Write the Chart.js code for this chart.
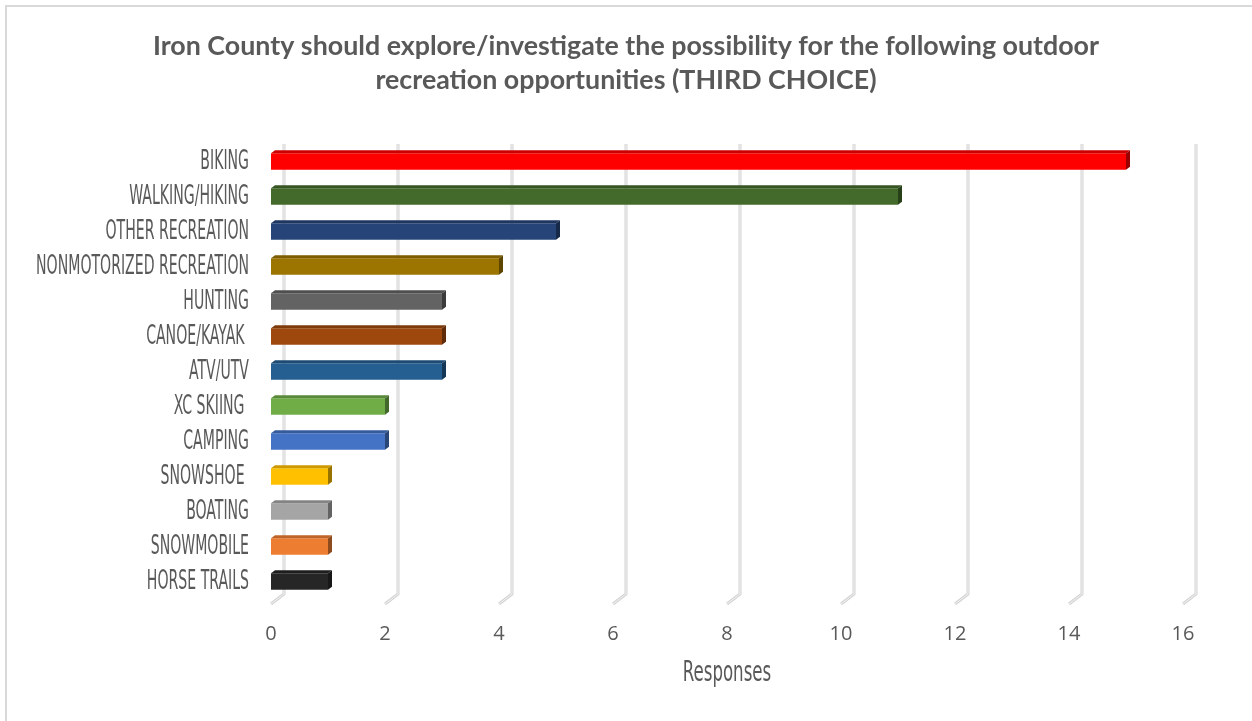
<!DOCTYPE html>
<html>
<head>
<meta charset="utf-8">
<script src="https://cdn.jsdelivr.net/npm/chart.js@4/dist/chart.umd.min.js"></script>
<style>
  html, body { margin: 0; padding: 0; background: #fff; overflow: hidden; }
  #frame { position: absolute; left: 5px; top: 5px; width: 1270px; height: 740px; border: 2px solid #d9d9d9; }
  #chart { position: absolute; left: 0; top: 0; }
</style>
</head>
<body>
<div id="frame"></div>
<canvas id="chart" width="1252" height="721"></canvas>
<script>
// DATA
const categories = ['BIKING', 'WALKING/HIKING', 'OTHER RECREATION', 'NONMOTORIZED RECREATION', 'HUNTING',
    'CANOE/KAYAK ', 'ATV/UTV', 'XC SKIING ', 'CAMPING', 'SNOWSHOE ', 'BOATING', 'SNOWMOBILE', 'HORSE TRAILS'];
const responses = [15, 11, 5, 4, 3, 3, 3, 2, 2, 1, 1, 1, 1];
const barColors = ['#ff0000', '#436a2b', '#264478', '#9c7400', '#636363', '#9e480e', '#255e91',
    '#70ad47', '#4472c4', '#ffc000', '#a5a5a5', '#ed7d31', '#262626'];
const xTicks = [0, 2, 4, 6, 8, 10, 12, 14, 16];

const titleLines = ['Iron County should explore/investigate the possibility for the following outdoor',
    'recreation opportunities (THIRD CHOICE)'];
const axisTitle = 'Responses';
const textGray = '#595959';
// tall, narrow look of the original labels: condensed font squeezed sideways
const narrowFamily = "'DejaVu Sans Condensed', 'DejaVu Sans', sans-serif";

// darken a hex colour
function shade(hex, f) {
    const n = parseInt(hex.slice(1), 16);
    const r = Math.round(((n >> 16) & 255) * f);
    const g = Math.round(((n >> 8) & 255) * f);
    const b = Math.round((n & 255) * f);
    return `rgb(${r},${g},${b})`;
}

function narrowText(ctx, text, x, y, align, size, squeeze) {
    ctx.save();
    ctx.font = `${size}px ${narrowFamily}`;
    ctx.fillStyle = textGray;
    ctx.textAlign = align;
    ctx.textBaseline = 'middle';
    ctx.translate(x, y);
    ctx.scale(squeeze, 1);
    ctx.fillText(text, 0, 0);
    ctx.restore();
}

// --- 3D back wall gridlines ---
const wallGrid = {
    id: 'wallGrid',
    beforeDatasetsDraw(chart) {
        const { ctx, chartArea, scales } = chart;
        const dx = 13, dy = 5;
        xTicks.forEach(v => {
            const px = scales.x.getPixelForValue(v);
            const path = () => {
                ctx.beginPath();
                ctx.moveTo(px + dx, chartArea.top);
                ctx.lineTo(px + dx, chartArea.bottom - dy);
                ctx.lineTo(px, chartArea.bottom + dy);
            };
            ctx.save();
            ctx.lineJoin = 'round';
            path(); ctx.strokeStyle = '#d4d4d4'; ctx.lineWidth = 3; ctx.stroke();
            path(); ctx.strokeStyle = '#f2f2f2'; ctx.lineWidth = 1; ctx.stroke();
            ctx.restore();
        });
    }
};

// --- bar depth faces ---
const barDepth = {
    id: 'barDepth',
    afterDatasetsDraw(chart) {
        const { ctx } = chart;
        const meta = chart.getDatasetMeta(0);
        const dx = 4, dy = 3;
        meta.data.forEach((bar, i) => {
            const { x, y, base, height } = bar.getProps(['x', 'y', 'base', 'height'], true);
            const top = y - height / 2, bot = y + height / 2;
            const c = barColors[i];
            ctx.save();
            ctx.beginPath();
            ctx.moveTo(base, top);
            ctx.lineTo(base + dx, top - dy);
            ctx.lineTo(x + dx, top - dy);
            ctx.lineTo(x, top);
            ctx.closePath();
            ctx.fillStyle = shade(c, 0.8);
            ctx.fill();
            ctx.beginPath();
            ctx.moveTo(x, top);
            ctx.lineTo(x + dx, top - dy);
            ctx.lineTo(x + dx, bot - dy);
            ctx.lineTo(x, bot);
            ctx.closePath();
            ctx.fillStyle = shade(c, 0.6);
            ctx.fill();
            ctx.restore();
        });
    }
};

// --- category labels and axis title in the narrow face ---
const narrowLabels = {
    id: 'narrowLabels',
    afterDraw(chart) {
        const { ctx, chartArea, scales } = chart;
        categories.forEach((label, i) => {
            narrowText(ctx, label, chartArea.left - 22, scales.y.getPixelForValue(i), 'right', 27, 0.58);
        });
        narrowText(ctx, axisTitle, (chartArea.left + chartArea.right) / 2, scales.x.bottom - 22, 'center', 28, 0.66);
    }
};

new Chart(document.getElementById('chart'), {
    type: 'bar',
    data: {
        labels: categories,
        datasets: [{
            label: axisTitle,
            data: responses,
            backgroundColor: barColors,
            borderWidth: 0,
            barPercentage: 0.47,
            categoryPercentage: 1
        }]
    },
    options: {
        indexAxis: 'y',
        responsive: false,
        animation: false,
        layout: { padding: { left: 5, right: 5, top: 0, bottom: 25 } },
        scales: {
            x: {
                min: 0, max: 16,
                afterBuildTicks: s => { s.ticks = xTicks.map(v => ({ value: v })); },
                afterFit: s => { s.height = 97; },
                grid: { display: false, drawTicks: false },
                border: { display: false },
                ticks: { padding: 23, color: textGray, font: { family: "'Open Sans', sans-serif", size: 20 } }
            },
            y: {
                afterFit: s => { s.width = 266; },
                grid: { display: false, drawTicks: false },
                border: { display: false },
                ticks: { display: false }
            },
            // empty right-hand strip so the plot ends where the original does
            spacer: {
                type: 'linear',
                position: 'right',
                afterFit: s => { s.width = 64; },
                grid: { display: false, drawTicks: false },
                border: { display: false },
                ticks: { display: false }
            }
        },
        plugins: {
            legend: { display: false },
            tooltip: { enabled: false },
            title: {
                display: true,
                text: titleLines,
                color: textGray,
                font: { family: "Lato, 'Open Sans', sans-serif", size: 26.8, weight: 'bold', lineHeight: 1.27 },
                padding: { top: 29, bottom: 47 }
            }
        }
    },
    plugins: [wallGrid, barDepth, narrowLabels]
});
</script>
</body>
</html>
